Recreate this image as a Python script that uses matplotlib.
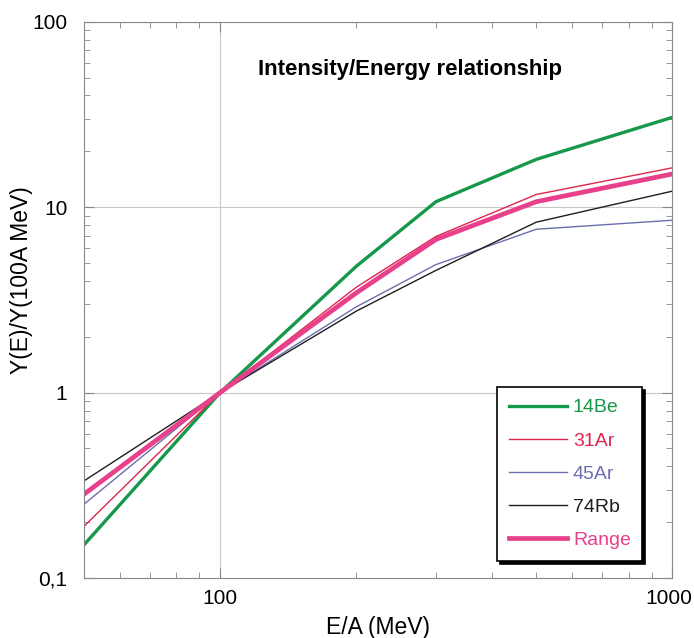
import matplotlib.pyplot as plt
import matplotlib.transforms as mtransforms
from matplotlib.ticker import FixedLocator, FixedFormatter, LogLocator, NullFormatter

plt.rcParams['font.family'] = ['Liberation Sans', 'DejaVu Sans']

# datos
energia = [50, 100, 200, 300, 500, 1000]
be14 = [0.151, 1.0, 4.8, 10.7, 18.1, 30.5]
ar31 = [0.19, 1.0, 3.7, 6.95, 11.7, 16.3]
ar45 = [0.25, 1.0, 2.9, 4.9, 7.6, 8.5]
rb74 = [0.334, 1.0, 2.75, 4.56, 8.3, 12.2]
rango = [0.283, 1.0, 3.45, 6.7, 10.7, 15.1]

nombres = ['14Be', '31Ar', '45Ar', '74Rb', 'Range']
colores = ['#16984a', '#e0254d', '#6b6fae', '#1e1e1e', '#e8408a']

fig = plt.figure(figsize=(6.94, 6.38), dpi=100)
ax = fig.add_axes([0.121, 0.094, 0.848, 0.872])

ax.plot(energia, be14, color=colores[0], lw=2.4, label=nombres[0])
ax.plot(energia, ar31, color=colores[1], lw=1.0, label=nombres[1])
ax.plot(energia, ar45, color=colores[2], lw=1.0, label=nombres[2])
ax.plot(energia, rb74, color=colores[3], lw=1.0, label=nombres[3])
ax.plot(energia, rango, color=colores[4], lw=3.4, label=nombres[4])

ax.set_xscale('log')
ax.set_yscale('log')
ax.set_xlim(50, 1000)
ax.set_ylim(0.1, 100)

ax.xaxis.set_major_locator(FixedLocator([100, 1000]))
ax.xaxis.set_major_formatter(FixedFormatter(['100', '1000']))
ax.xaxis.set_minor_locator(LogLocator(base=10, subs=range(2, 10)))
ax.xaxis.set_minor_formatter(NullFormatter())
ax.yaxis.set_major_locator(FixedLocator([0.1, 1, 10, 100]))
ax.yaxis.set_major_formatter(FixedFormatter(['0,1', '1', '10', '100']))
ax.yaxis.set_minor_locator(LogLocator(base=10, subs=range(2, 10)))
ax.yaxis.set_minor_formatter(NullFormatter())

ax.grid(True, which='major', color='#c8c8c8', lw=0.8)
ax.tick_params(which='both', direction='in', top=True, right=True, colors='#888888',
               labelcolor='black', labelsize=15)
ax.tick_params(which='major', length=7)
ax.tick_params(axis='y', which='major', pad=12)
ax.tick_params(axis='x', which='major', pad=8)
ax.tick_params(which='minor', length=4)
for s in ax.spines.values():
    s.set_color('#888888')

# la etiqueta 1000 queda pegada al borde, moverla un poco
fig.canvas.draw()
ultima = ax.get_xticklabels()[-1]
ultima.set_transform(ultima.get_transform() + mtransforms.ScaledTranslation(-4 / 100, 0, fig.dpi_scale_trans))

ax.set_xlabel('E/A (MeV)', fontsize=16.5, labelpad=6)
ax.set_ylabel('Y(E)/Y(100A MeV)', fontsize=16.5)
ax.yaxis.set_label_coords(-0.086, 0.536)
ax.text(0.554, 0.914, 'Intensity/Energy relationship', transform=ax.transAxes,
        ha='center', va='center', fontsize=16, fontweight='bold')

leg = ax.legend(loc='lower right', bbox_to_anchor=(0.949, 0.031), borderaxespad=0,
                fontsize=14, frameon=True, fancybox=False,
                shadow={'color': 'black', 'alpha': 1},
                edgecolor='black', handlelength=3.0, labelspacing=0.8,
                borderpad=0.6, handletextpad=0.3)
leg.get_frame().set_linewidth(1.2)
for t, c in zip(leg.get_texts(), colores):
    t.set_color(c)

fig.savefig('out.png', dpi=100)
